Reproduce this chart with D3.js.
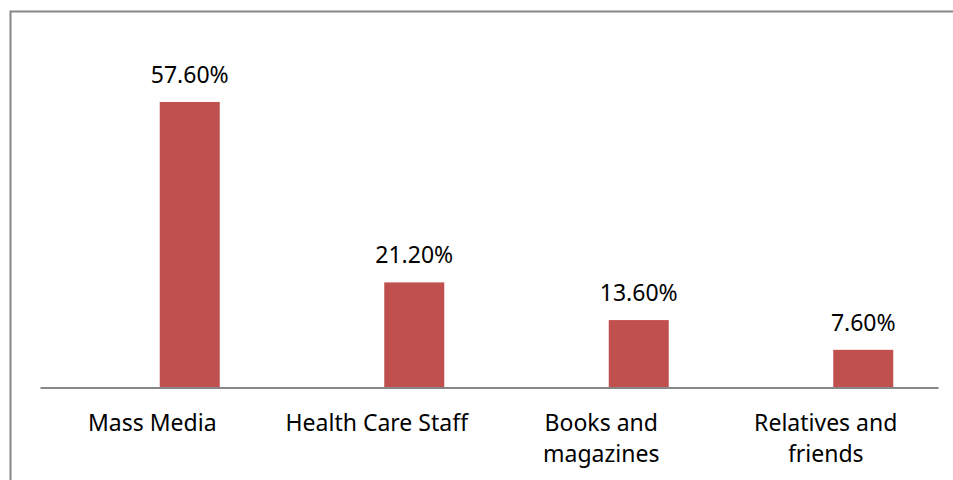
<!DOCTYPE html>
<html>
<head>
<meta charset="utf-8">
<script src="https://cdn.jsdelivr.net/npm/d3@7"></script>
<style>
  body { margin: 0; background: #fff; }
  text { font-family: "Noto Sans", "Open Sans", sans-serif; fill: #000; }
</style>
</head>
<body>
<script>
// chart data
var categories = ["Mass Media", "Health Care Staff", "Books and magazines", "Relatives and friends"];
var values = [0.576, 0.212, 0.136, 0.076];

var w = 953, h = 480;
var barColor = "#C0504D";

var svg = d3.select("body")
    .append("svg")
    .attr("width", w)
    .attr("height", h);

// chart border (runs off the right and bottom edge)
svg.append("rect")
    .attr("x", 10.5)
    .attr("y", 11.5)
    .attr("width", 1000)
    .attr("height", 600)
    .style("fill", "none")
    .style("stroke", "#878787")
    .style("stroke-width", 2);

var x = d3.scaleBand()
    .domain(categories)
    .range([40, 938])
    .padding(0);

var y = d3.scaleLinear()
    .domain([0, 0.7])
    .range([387.5, 40.5]);

var barW = 60;
var barShift = 7.5; // bar sits right of the category centre

var rows = categories.map(function (c, i) {
    return { cat: c, val: values[i] };
});

svg.selectAll(".bar")
    .data(rows)
    .enter()
    .append("rect")
    .attr("class", "bar")
    .attr("x", function (d) { return x(d.cat) + x.bandwidth() / 2 + barShift; })
    .attr("y", function (d) { return y(d.val); })
    .attr("width", barW)
    .attr("height", function (d) { return y(0) - y(d.val); })
    .style("fill", barColor);

var fmt = d3.format(".2%");

svg.selectAll(".valLabel")
    .data(rows)
    .enter()
    .append("text")
    .attr("class", "valLabel")
    .attr("text-anchor", "middle")
    .attr("x", function (d) { return x(d.cat) + x.bandwidth() / 2 + barShift + barW / 2; })
    .attr("y", function (d) { return y(d.val) - 19; })
    .style("font-size", "23px")
    .text(function (d) { return fmt(d.val); });

// x axis: baseline + wrapped category labels
var xAxis = d3.axisBottom(x).tickSize(0).tickPadding(0);
var ax = svg.append("g")
    .attr("transform", "translate(0," + y(0) + ")")
    .call(xAxis);
ax.select(".domain").attr("stroke", "#878787").attr("stroke-width", 2);
ax.selectAll(".tick text")
    .attr("dy", null)
    .attr("y", 43)
    .style("font-size", "23px")
    .style("font-family", "'Noto Sans', 'Open Sans', sans-serif")
    .attr("fill", "#000")
    .call(wrap, 200);

function wrap(sel, width) {
    sel.each(function () {
        var t = d3.select(this);
        var words = t.text().split(" ");
        var yy = t.attr("y");
        t.text(null);
        var line = [];
        var lineNo = 0;
        var tspan = t.append("tspan").attr("x", 0).attr("y", yy);
        words.forEach(function (word) {
            line.push(word);
            tspan.text(line.join(" "));
            if (tspan.node().getComputedTextLength() > width && line.length > 1) {
                line.pop();
                tspan.text(line.join(" "));
                line = [word];
                lineNo++;
                tspan = t.append("tspan").attr("x", 0).attr("y", yy)
                    .attr("dy", lineNo * 31).text(word);
            }
        });
    });
}
</script>
</body>
</html>
